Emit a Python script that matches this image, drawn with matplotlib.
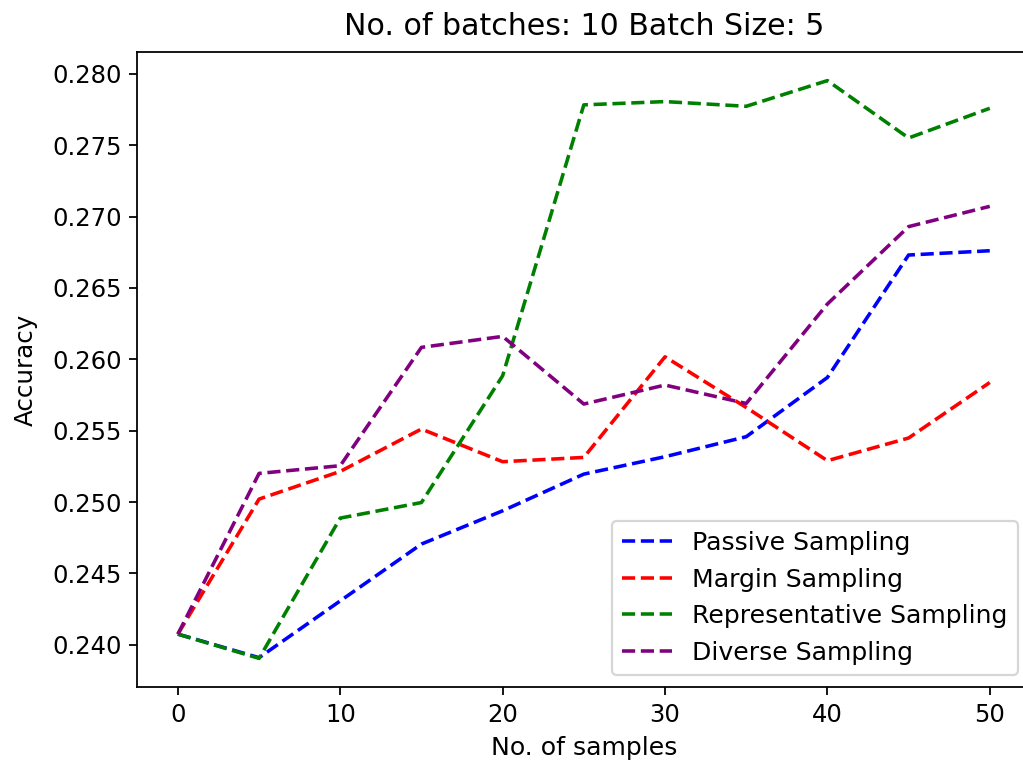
import matplotlib
matplotlib.use('Agg')
from matplotlib import pyplot as plt

samples = [0, 5, 10, 15, 20, 25, 30, 35, 40, 45, 50]

passive = [0.24075, 0.2391, 0.24308, 0.24706, 0.24939, 0.25196, 0.25318, 0.25458, 0.25873, 0.26731, 0.26761]
margin = [0.24075, 0.25021, 0.25215, 0.25512, 0.25283, 0.25313, 0.26018, 0.25663, 0.25290, 0.25449, 0.25838]
representative = [0.24075, 0.23905, 0.24888, 0.24997, 0.25885, 0.27783, 0.27806, 0.27773, 0.27953, 0.27551, 0.27759]
diverse = [0.24075, 0.25201, 0.25255, 0.26084, 0.26161, 0.25687, 0.25820, 0.25691, 0.26388, 0.26930, 0.27072]

series = [
    ('Passive Sampling', passive, 'blue'),
    ('Margin Sampling', margin, 'red'),
    ('Representative Sampling', representative, 'green'),
    ('Diverse Sampling', diverse, 'purple'),
]

plt.rcParams['xtick.labelsize'] = 10.9
plt.rcParams['ytick.labelsize'] = 10.9

fig = plt.figure(figsize=(1023 / 160, 765 / 160), dpi=160)
# axes runs slightly past the right edge, like the cropped original
ax = fig.add_axes([0.1342, 0.1016, 0.873, 0.8308])

for label, values, color in series:
    ax.plot(samples, values, linestyle='--', color=color, label=label, linewidth=1.6)

ax.set_title('No. of batches: 10 Batch Size: 5', fontsize=13.5, pad=7.5)
ax.set_xlabel('No. of samples', fontsize=11.3)
ax.set_ylabel('Accuracy', fontsize=11.0, labelpad=6.5)
ax.legend(loc='lower right', fontsize=11.3)

fig.savefig('out.png', dpi=160)
